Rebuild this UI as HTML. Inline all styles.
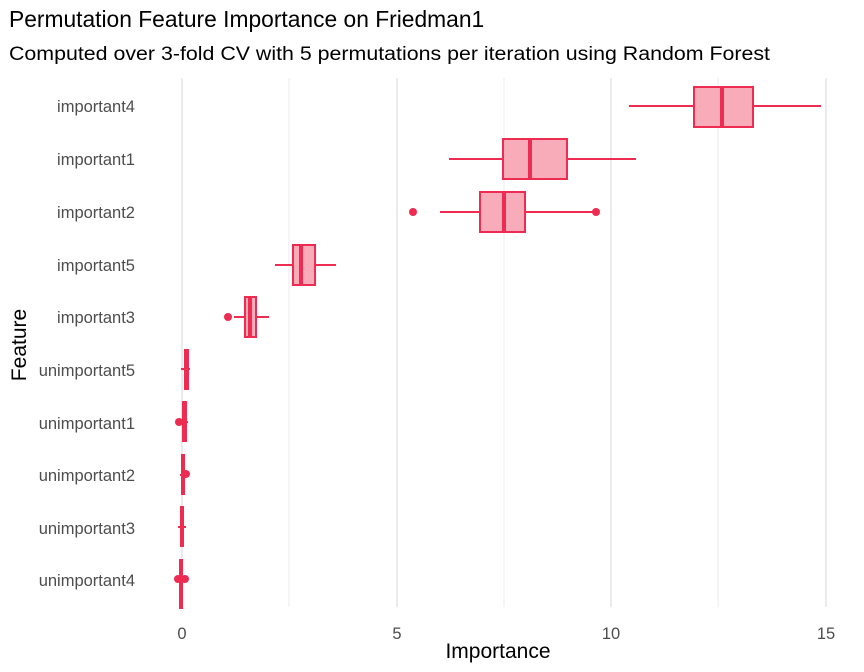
<!DOCTYPE html>
<html><head><style>body{margin:0;background:#fff}svg{display:block}</style></head><body>
<svg width="864" height="672" xmlns="http://www.w3.org/2000/svg" font-family="Liberation Sans, sans-serif">
<rect width="864" height="672" fill="#fff"/>
<text x="9" y="27" font-size="22.8" fill="#000">Permutation Feature Importance on Friedman1</text>
<text x="9" y="60" font-size="19" fill="#000" textLength="761" lengthAdjust="spacingAndGlyphs">Computed over 3-fold CV with 5 permutations per iteration using Random Forest</text>
<g stroke="#ebebeb">
<line x1="289" y1="78" x2="289" y2="607" stroke-width="1"/>
<line x1="504" y1="78" x2="504" y2="607" stroke-width="1"/>
<line x1="718" y1="78" x2="718" y2="607" stroke-width="1"/>
<line x1="182" y1="78" x2="182" y2="607" stroke-width="2"/>
<line x1="397" y1="78" x2="397" y2="607" stroke-width="2"/>
<line x1="611" y1="78" x2="611" y2="607" stroke-width="2"/>
<line x1="826" y1="78" x2="826" y2="607" stroke-width="2"/>
</g>
<g font-size="16.5" fill="#4d4d4d" text-anchor="end">
<text x="135" y="112">important4</text>
<text x="135" y="165">important1</text>
<text x="135" y="218">important2</text>
<text x="135" y="271">important5</text>
<text x="135" y="323">important3</text>
<text x="135" y="376">unimportant5</text>
<text x="135" y="429">unimportant1</text>
<text x="135" y="481">unimportant2</text>
<text x="135" y="534">unimportant3</text>
<text x="135" y="586">unimportant4</text>
</g>
<g font-size="16.5" fill="#4d4d4d" text-anchor="middle">
<text x="182" y="639">0</text><text x="397" y="639">5</text><text x="611" y="639">10</text><text x="826" y="639">15</text>
</g>
<text x="498" y="658" font-size="21" text-anchor="middle">Importance</text>
<text transform="translate(26,345) rotate(-90)" font-size="21" text-anchor="middle">Feature</text>
<g stroke="#ee2b51" stroke-width="2" fill="#f8abb8">
<line x1="629" y1="106" x2="821" y2="106"/><rect x="694" y="87" width="59" height="40"/><line x1="722" y1="87" x2="722" y2="127" stroke-width="4"/>
<line x1="449" y1="159" x2="636" y2="159"/><rect x="503" y="139" width="64" height="40"/><line x1="530" y1="139" x2="530" y2="179" stroke-width="4"/>
<line x1="440" y1="212" x2="595" y2="212"/><rect x="480" y="192" width="45" height="40"/><line x1="504" y1="192" x2="504" y2="232" stroke-width="4"/>
<line x1="275" y1="265" x2="336" y2="265"/><rect x="293" y="245" width="22" height="40"/><line x1="301" y1="245" x2="301" y2="285" stroke-width="4"/>
<line x1="234" y1="317" x2="269" y2="317"/><rect x="245" y="297" width="11" height="40"/><line x1="250" y1="297" x2="250" y2="337" stroke-width="4"/>
</g>
<g fill="#ee2b51">
<circle cx="413" cy="212" r="4"/><circle cx="596" cy="212" r="4"/><circle cx="228" cy="317" r="4"/>
<rect x="184" y="349" width="5" height="41"/><rect x="181" y="368" width="9" height="2"/>
<rect x="182" y="401" width="5" height="41"/><rect x="180" y="421" width="8" height="2"/><circle cx="179" cy="422" r="4"/>
<rect x="181" y="454" width="4" height="41"/><rect x="180" y="474" width="8" height="2"/><circle cx="186" cy="474" r="4"/>
<rect x="180" y="506" width="4" height="41"/><rect x="178" y="526" width="8" height="2"/>
<rect x="179" y="559" width="4" height="50"/><circle cx="178" cy="579" r="4"/><circle cx="185" cy="579" r="4"/><rect x="178" y="576" width="8" height="6"/>
</g>
</svg>
</body></html>
